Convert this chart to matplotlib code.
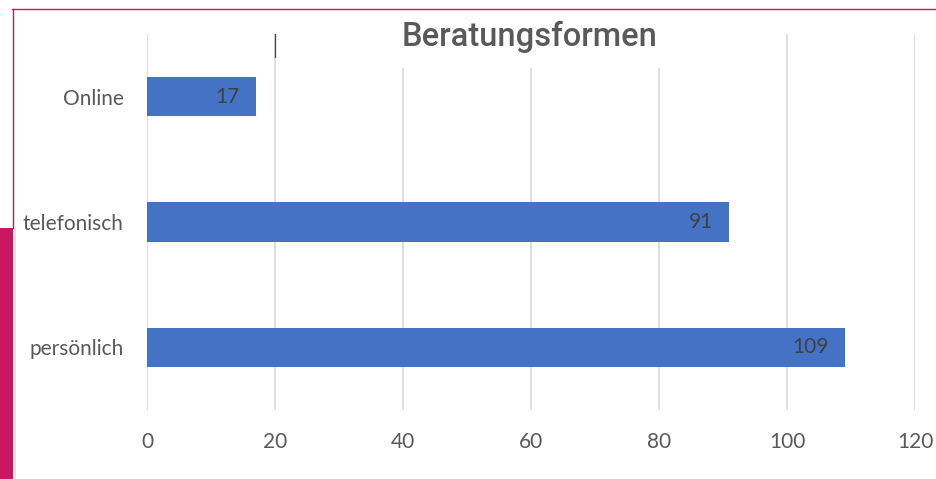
import matplotlib.pyplot as plt
from matplotlib.patches import Rectangle
from matplotlib.lines import Line2D

# Daten
kategorien = ['persönlich', 'telefonisch', 'Online']
anzahl = [109, 91, 17]
xticks = [0, 20, 40, 60, 80, 100, 120]

balken_farbe = '#4472C4'
text_farbe = '#595959'
pink = '#CC1660'

plt.rcParams['font.family'] = ['Lato', 'DejaVu Sans']

fig = plt.figure(figsize=(9.36, 4.79), dpi=100)
W, H = 936.0, 479.0
ax = fig.add_axes([147 / W, (H - 410) / H, (915 - 147) / W, (410 - 34) / H])

pos = list(range(len(kategorien)))
bars = ax.barh(pos, anzahl, height=0.312, color=balken_farbe, zorder=3)

for rect, v in zip(bars, anzahl):
    ax.text(rect.get_width() - 2.5, rect.get_y() + rect.get_height() / 2, str(v),
            ha='right', va='center', fontsize=15, color='#404040', zorder=4)

ax.set_xlim(0, 120)
ax.set_ylim(-0.5, len(kategorien) - 0.5)
ax.set_xticks(xticks)
ax.set_xticklabels([str(t) for t in xticks])
ax.set_yticks(pos)
ax.set_yticklabels(kategorien)
ax.tick_params(axis='both', length=0, labelsize=15, labelcolor=text_farbe)
ax.tick_params(axis='y', pad=17)
ax.tick_params(axis='x', pad=16)

for s in ax.spines.values():
    s.set_visible(False)
ax.grid(axis='x', color='#D9D9D9', linewidth=1.2, zorder=0)
ax.set_axisbelow(True)

# kleiner dunkler Strich bei 20
ax.plot([20, 20], [1 - 23 / 376.0, 1], transform=ax.get_xaxis_transform(),
        color='#404040', linewidth=0.9, zorder=2)

# Titel mit weissem Hintergrund
fig.patches.append(Rectangle((392 / W, (H - 68) / H), 276 / W, 48 / H,
                             transform=fig.transFigure, facecolor='white',
                             edgecolor='none', zorder=5))
fig.text(530 / W, (H - 37) / H, 'Beratungsformen', ha='center', va='center',
         fontsize=23.5, fontweight='medium', color=text_farbe,
         family=['Roboto', 'DejaVu Sans'], zorder=6)

# Rahmen / Dekoration
fig.add_artist(Line2D([12 / W, 1], [(H - 9) / H] * 2, color=pink, linewidth=1.0))
fig.add_artist(Line2D([13 / W, 13 / W], [(H - 9) / H, (H - 228) / H], color=pink, linewidth=1.0))
fig.patches.append(Rectangle((0, 0), 13 / W, (H - 228) / H, transform=fig.transFigure,
                             facecolor=pink, edgecolor='none'))
fig.add_artist(Line2D([14.5 / W, 14.5 / W], [0, (H - 228) / H], color='#DDDDDD', linewidth=1.2))

fig.savefig('out.png', dpi=100)
